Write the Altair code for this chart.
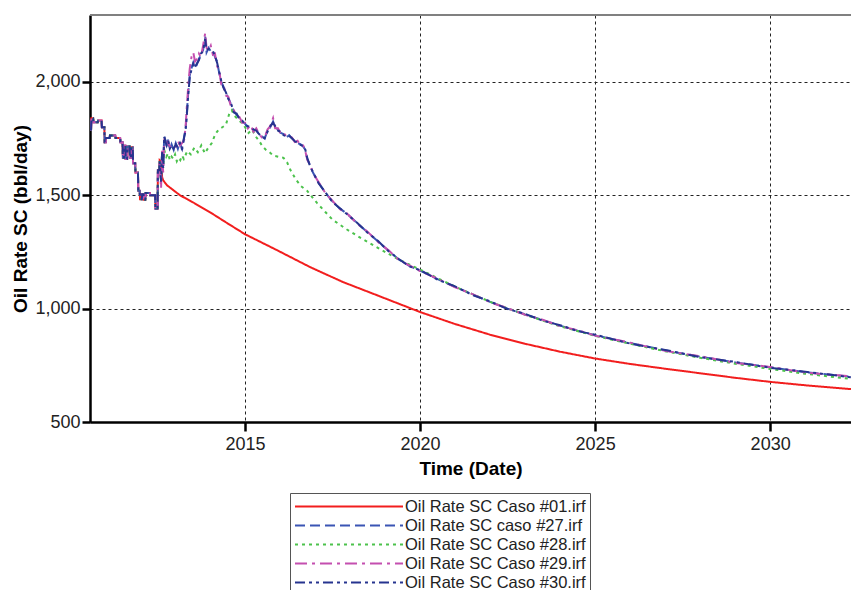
import altair as alt
import pandas as pd

FONT = "Liberation Sans, Arial, sans-serif"

SERIES = [
    "Oil Rate SC Caso #01.irf",
    "Oil Rate SC caso #27.irf",
    "Oil Rate SC Caso #28.irf",
    "Oil Rate SC Caso #29.irf",
    "Oil Rate SC Caso #30.irf",
]
COLORS = ["#F21E1E", "#3A55B4", "#4CC24C", "#C44FAF", "#26348F"]
DASHES = [[1, 0], [10, 5], [3, 4], [12, 5, 3, 5], [10, 4, 3, 4, 3, 4]]

# shared production history (all cases)
HIST_T = [2010.571, 2010.60, 2010.61, 2010.66, 2010.67, 2010.79, 2010.80, 2010.90,
          2010.91, 2010.98, 2010.99, 2011.02, 2011.03, 2011.13, 2011.14, 2011.29,
          2011.30, 2011.43, 2011.44, 2011.50, 2011.51, 2011.54, 2011.55, 2011.58,
          2011.59, 2011.63, 2011.64, 2011.70, 2011.71, 2011.74, 2011.75, 2011.79,
          2011.80, 2011.86, 2011.87, 2011.94, 2011.95, 2011.99, 2012.00, 2012.05,
          2012.06, 2012.10, 2012.11, 2012.15, 2012.16, 2012.28, 2012.29, 2012.43,
          2012.44, 2012.50, 2012.51, 2012.55]
HIST_V = [1790, 1790, 1840, 1840, 1822, 1822, 1830, 1830,
          1800, 1800, 1734, 1734, 1752, 1752, 1764, 1764,
          1752, 1752, 1734, 1734, 1665, 1665, 1718, 1718,
          1660, 1660, 1715, 1715, 1665, 1665, 1712, 1712,
          1641, 1641, 1600, 1600, 1520, 1520, 1482, 1482,
          1505, 1505, 1480, 1480, 1510, 1510, 1500, 1500,
          1440, 1440, 1610, 1610]

# Caso #01 forecast
T01 = [2012.56, 2012.60, 2012.63, 2012.66, 2012.77, 2013.14, 2013.51, 2014.00,
       2014.49, 2015.00, 2015.91, 2016.86, 2017.80, 2018.77, 2020.00, 2021.00,
       2022.00, 2023.00, 2024.00, 2025.00, 2026.00, 2027.00, 2028.00, 2029.00,
       2030.00, 2031.00, 2032.31]
V01 = [1655, 1650, 1580, 1566, 1544, 1500, 1469, 1425,
       1377, 1328, 1258, 1183, 1117, 1059, 985, 932,
       885, 845, 810, 780, 756, 735, 715, 695,
       677, 662, 645]

# Caso #27 / #29 / #30 forecast times
T27 = [2012.56, 2012.60, 2012.63, 2012.66, 2012.69, 2012.73, 2012.76, 2012.80,
       2012.85, 2012.90, 2012.96, 2013.02, 2013.08, 2013.14, 2013.20, 2013.26,
       2013.30, 2013.34, 2013.38, 2013.42, 2013.47, 2013.52, 2013.57, 2013.62,
       2013.68, 2013.74, 2013.80, 2013.86, 2013.90, 2013.96, 2014.02, 2014.08,
       2014.14, 2014.20, 2014.26, 2014.32, 2014.38, 2014.45, 2014.52, 2014.60,
       2014.68, 2014.76, 2014.84, 2014.92, 2015.00, 2015.08, 2015.16, 2015.24,
       2015.32, 2015.40, 2015.48, 2015.56, 2015.64, 2015.72, 2015.80, 2015.86,
       2015.94, 2016.02, 2016.10, 2016.18, 2016.26, 2016.34, 2016.42, 2016.50,
       2016.58, 2016.66, 2016.72, 2016.78, 2016.86, 2016.94, 2017.10, 2017.30,
       2017.50, 2017.70, 2017.90, 2018.20, 2018.50, 2018.80, 2019.10, 2019.40,
       2019.70, 2020.00, 2020.50, 2021.00, 2021.50, 2022.00, 2022.50, 2023.00,
       2023.50, 2024.00, 2024.50, 2025.00, 2026.00, 2027.00, 2028.00, 2029.00,
       2030.00, 2031.00, 2032.31]
V27 = [1650, 1560, 1690, 1620, 1760, 1740, 1715, 1745,
       1700, 1725, 1700, 1730, 1705, 1735, 1700, 1760,
       1790, 1870, 1960, 2030, 2060, 2085, 2060, 2075,
       2100, 2120, 2140, 2200, 2130, 2150, 2135, 2140,
       2110, 2090, 2040, 2000, 1980, 1950, 1930, 1900,
       1870, 1855, 1840, 1825, 1815, 1800, 1805, 1785,
       1790, 1765, 1760, 1750, 1785, 1800, 1825, 1800,
       1790, 1775, 1770, 1755, 1765, 1750, 1740, 1730,
       1725, 1715, 1700, 1660, 1630, 1600, 1555, 1510,
       1472, 1442, 1420, 1377, 1337, 1296, 1255, 1216,
       1188, 1168, 1130, 1096, 1062, 1030, 1000, 975,
       949, 925, 903, 883, 848, 816, 788, 763,
       741, 720, 699]
V29 = [1650, 1530, 1700, 1600, 1745, 1755, 1725, 1735,
       1715, 1710, 1720, 1715, 1740, 1720, 1730, 1745,
       1800, 1900, 1990, 2060, 2110, 2130, 2090, 2100,
       2125, 2110, 2160, 2215, 2150, 2140, 2160, 2120,
       2125, 2070, 2050, 1990, 1990, 1940, 1935, 1890,
       1875, 1850, 1845, 1820, 1820, 1795, 1810, 1780,
       1795, 1770, 1755, 1755, 1790, 1805, 1840, 1795,
       1795, 1770, 1775, 1760, 1760, 1755, 1735, 1740,
       1720, 1720, 1695, 1655, 1635, 1598, 1558, 1508,
       1475, 1440, 1422, 1375, 1339, 1294, 1257, 1214,
       1190, 1166, 1132, 1094, 1064, 1028, 1002, 973,
       951, 923, 905, 881, 850, 814, 790, 761,
       743, 718, 701]
V30 = [1650, 1560, 1690, 1620, 1760, 1735, 1720, 1740,
       1705, 1720, 1705, 1725, 1710, 1730, 1705, 1755,
       1785, 1860, 1950, 2020, 2055, 2080, 2065, 2080,
       2095, 2125, 2135, 2190, 2140, 2145, 2140, 2135,
       2115, 2085, 2045, 2005, 1975, 1955, 1925, 1905,
       1865, 1860, 1835, 1830, 1810, 1805, 1800, 1790,
       1785, 1770, 1758, 1752, 1780, 1805, 1820, 1805,
       1785, 1780, 1765, 1760, 1762, 1752, 1738, 1732,
       1722, 1718, 1702, 1662, 1628, 1602, 1553, 1512,
       1470, 1444, 1418, 1379, 1335, 1298, 1253, 1218,
       1186, 1170, 1128, 1098, 1060, 1032, 998, 977,
       947, 927, 901, 885, 846, 818, 786, 765,
       739, 722, 697]

# Caso #28 forecast
T28 = [2012.56, 2012.60, 2012.63, 2012.66, 2012.69, 2012.75, 2012.80, 2012.85,
       2012.90, 2012.95, 2013.00, 2013.05, 2013.10, 2013.15, 2013.20, 2013.25,
       2013.35, 2013.45, 2013.55, 2013.65, 2013.75, 2013.85, 2013.95, 2014.05,
       2014.15, 2014.25, 2014.35, 2014.45, 2014.55, 2014.62, 2014.70, 2014.80,
       2014.90, 2015.00, 2015.10, 2015.20, 2015.30, 2015.40, 2015.50, 2015.60,
       2015.70, 2015.80, 2015.95, 2016.10, 2016.20, 2016.30, 2016.45, 2016.60,
       2016.77, 2016.90, 2017.06, 2017.30, 2017.50, 2017.90, 2018.30, 2018.86,
       2019.40, 2020.00, 2021.00, 2022.00, 2023.00, 2024.00, 2025.00, 2026.00,
       2027.00, 2028.00, 2029.00, 2030.00, 2031.00, 2032.31]
V28 = [1650, 1560, 1690, 1620, 1700, 1670, 1685, 1655,
       1670, 1660, 1680, 1650, 1665, 1655, 1675, 1660,
       1695, 1680, 1710, 1690, 1720, 1685, 1710, 1730,
       1770, 1790, 1800, 1810, 1860, 1875, 1850, 1835,
       1820, 1800, 1775, 1790, 1760, 1740, 1715, 1700,
       1690, 1675, 1670, 1665, 1645, 1610, 1570, 1540,
       1520, 1495, 1465, 1425, 1392, 1350, 1312, 1262,
       1216, 1172, 1097, 1030, 973, 922, 880, 845,
       812, 783, 757, 734, 713, 690]

FORECASTS = [(T01, V01), (T27, V27), (T28, V28), (T27, V29), (T27, V30)]

rows = []
for name, (ts, vs) in zip(SERIES, FORECASTS):
    for t, v in zip(HIST_T + ts, HIST_V + vs):
        rows.append({"case": name, "t": t, "v": v})
df = pd.DataFrame(rows)

W, H = 761, 407

legend = alt.Legend(
    title=None, orient="none", legendX=200, legendY=478, direction="vertical",
    symbolType="stroke", symbolSize=11664, symbolStrokeWidth=2,
    clipHeight=19, rowPadding=0, labelOffset=1, padding=4,
    strokeColor="#555555", fillColor="white",
    labelFont=FONT, labelFontSize=16.5, labelColor="#222222", labelLimit=400,
)

lines = alt.Chart(df).mark_line(strokeWidth=2, clip=True).encode(
    x=alt.X("t:Q", scale=alt.Scale(domain=[2010.57, 2032.31], nice=False, zero=False),
            axis=alt.Axis(values=[2015, 2020, 2025, 2030], format="d",
                          title="Time (Date)", grid=True, gridDash=[3, 3],
                          gridColor="#222222", gridWidth=1,
                          tickSize=9, tickWidth=2.5, tickColor="black",
                          domainColor="black", domainWidth=2.5,
                          labelFont=FONT, labelFontSize=18, labelColor="#222222",
                          labelPadding=4, titleFont=FONT, titleFontSize=19,
                          titleFontWeight="bold", titleColor="black", titlePadding=6)),
    y=alt.Y("v:Q", scale=alt.Scale(domain=[500, 2295], nice=False, zero=False),
            axis=alt.Axis(values=[500, 1000, 1500, 2000], format=",d",
                          title="Oil Rate SC (bbl/day)", grid=True, gridDash=[3, 3],
                          gridColor="#222222", gridWidth=1,
                          tickSize=8, tickWidth=2.5, tickColor="black",
                          domainColor="black", domainWidth=2.5,
                          labelFont=FONT, labelFontSize=18, labelColor="#222222",
                          labelPadding=2, titleFont=FONT, titleFontSize=19,
                          titleFontWeight="bold", titleColor="black", titlePadding=4)),
    color=alt.Color("case:N", scale=alt.Scale(domain=SERIES, range=COLORS), legend=legend),
    strokeDash=alt.StrokeDash("case:N", scale=alt.Scale(domain=SERIES, range=DASHES), legend=legend),
    order=alt.Order("t:Q"),
)

top_border = alt.Chart(pd.DataFrame({"k": [0]})).mark_rule(
    color="#808080", strokeWidth=2
).encode(x=alt.value(0), x2=alt.value(W), y=alt.value(0))

chart = alt.layer(lines, top_border).properties(
    width=W, height=H,
    autosize=alt.AutoSizeParams(type="none"),
    padding={"left": 90, "top": 15, "right": 0, "bottom": 168},
    background="white",
).configure_view(stroke=None)

chart.save("out.html", embed_options={"renderer": "svg", "actions": False})
